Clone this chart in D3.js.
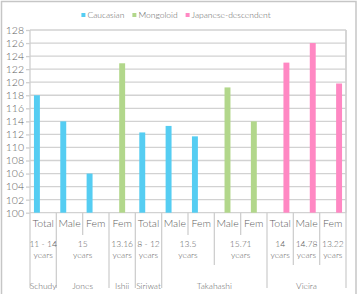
<!DOCTYPE html>
<html>
<head>
<meta charset="utf-8">
<script src="https://cdn.jsdelivr.net/npm/d3@7"></script>
<style>
  body { margin: 0; background: #fff; }
  svg text { font-family: Lato, "Open Sans", sans-serif; font-weight: 300; fill: #606060; }
</style>
</head>
<body>
<svg id="chart"></svg>
<script>
// data
const categories = ['Total', 'Male', 'Fem', 'Fem', 'Total', 'Male', 'Fem', 'Male', 'Fem', 'Total', 'Male', 'Fem'];
const ageLabels = ['11 - 14', '15', '13.16', '8 - 12', '13.5', '15.71', '14', '14.78', '13.22'];
const ageSpans = [1, 2, 1, 1, 2, 2, 1, 1, 1];
const studies = ['Schudy', 'Jones', 'Ishii', 'Siriwat', 'Takahashi', 'Vieira'];
const studySpans = [1, 2, 1, 1, 4, 3];
const seriesNames = ['Caucasian', 'Mongoloid', 'Japanese-descendent'];
const caucasian = [118, 114, 106, null, 112.3, 113.3, 111.7, null, null, null, null, null];
const mongoloid = [null, null, null, 122.9, null, null, null, 119.2, 114, null, null, null];
const japanese = [null, null, null, null, null, null, null, null, null, 123, 126, 119.8];
const yTicks = d3.range(100, 129, 2);

const colors = ['#55cdf2', '#b2d78b', '#ff88c3'];
const seriesValues = [caucasian, mongoloid, japanese];

const W = 362, H = 294;
const plot = {left: 30, top: 30, right: 346, bottom: 212.7};
const lvlEnd = [235, 265, 288];

const svg = d3.select('#chart').attr('width', W).attr('height', H);

// outer frame (cut off at the bottom in the reference)
svg.append('rect')
    .attr('x', 1.5).attr('y', 1.5)
    .attr('width', 354.5).attr('height', 310)
    .attr('fill', 'none').attr('stroke', '#c6c6c6').attr('stroke-width', 1.5);

const x0 = d3.scaleBand()
    .domain(d3.range(categories.length))
    .range([plot.left, plot.right])
    .paddingInner(0.3).paddingOuter(0.15);
const x1 = d3.scaleBand()
    .domain(seriesNames)
    .range([0, x0.bandwidth()])
    .paddingInner(0.05);
const y = d3.scaleLinear().domain([100, 128]).range([plot.bottom, plot.top]);
const step = x0.step();
const colLeft = i => plot.left + i * step;

// y axis ticks + labels
svg.append('g')
    .attr('transform', `translate(${plot.left},0)`)
    .call(d3.axisLeft(y).tickValues(yTicks).tickSize(4).tickPadding(2))
    .call(g => g.select('.domain').remove())
    .call(g => g.selectAll('.tick line').attr('stroke', '#cfcfcf').attr('stroke-width', 1.3))
    .call(g => g.selectAll('.tick text').style('font-size', '10.5px'));

// gridlines
svg.append('g').selectAll('line')
    .data(yTicks)
    .join('line')
    .attr('x1', plot.left).attr('x2', plot.right)
    .attr('y1', d => y(d)).attr('y2', d => y(d))
    .attr('stroke', '#d2d2d2').attr('stroke-width', 1.3);

// right border of plot
svg.append('line').attr('x1', plot.right).attr('x2', plot.right)
    .attr('y1', plot.top).attr('y2', plot.bottom)
    .attr('stroke', '#d2d2d2').attr('stroke-width', 1.3);

// bars
const bars = [];
seriesValues.forEach((vals, s) => vals.forEach((v, i) => {
  if (v != null) bars.push({i, s, v});
}));
svg.append('g').selectAll('rect')
    .data(bars)
    .join('rect')
    .attr('x', d => x0(d.i) + x1(seriesNames[d.s]))
    .attr('width', x1.bandwidth())
    .attr('y', d => y(d.v))
    .attr('height', d => y(100) - y(d.v))
    .attr('fill', d => colors[d.s]);

// multi-level category axis separators
const ageStarts = ageSpans.map((s, k) => d3.sum(ageSpans.slice(0, k)));
const studyStarts = studySpans.map((s, k) => d3.sum(studySpans.slice(0, k)));
const n = categories.length;
const sepLen = d3.range(n + 1).map(b => {
  if (b === 0 || b === n || studyStarts.includes(b)) return lvlEnd[2];
  if (ageStarts.includes(b)) return lvlEnd[1];
  return lvlEnd[0];
});
svg.append('g').selectAll('line')
    .data(sepLen)
    .join('line')
    .attr('x1', (d, b) => colLeft(b)).attr('x2', (d, b) => colLeft(b))
    .attr('y1', (d, b) => (b === 0 || b === n) ? plot.top : plot.bottom)
    .attr('y2', d => d)
    .attr('stroke', '#cfcfcf').attr('stroke-width', 1.3);

// level 1 labels
svg.append('g').selectAll('text')
    .data(categories)
    .join('text')
    .attr('x', (d, i) => colLeft(i) + step / 2)
    .attr('y', 226.5)
    .attr('text-anchor', 'middle')
    .style('font-size', '10.5px')
    .text(d => d);

// level 2 labels (age)
const ageG = svg.append('g').selectAll('text')
    .data(ageLabels)
    .join('text')
    .attr('text-anchor', 'middle')
    .style('font-size', '8.5px');
ageG.append('tspan')
    .attr('x', (d, k) => colLeft(ageStarts[k]) + ageSpans[k] * step / 2)
    .attr('y', 246.5)
    .text(d => d);
ageG.append('tspan')
    .attr('x', (d, k) => colLeft(ageStarts[k]) + ageSpans[k] * step / 2)
    .attr('y', 257.5)
    .text('years');

// level 3 labels (study)
svg.append('g').selectAll('text')
    .data(studies)
    .join('text')
    .attr('x', (d, k) => colLeft(studyStarts[k]) + studySpans[k] * step / 2)
    .attr('y', 288.5)
    .attr('text-anchor', 'middle')
    .style('font-size', '8.5px')
    .text(d => d);

// legend, centred above the plot
const legend = svg.append('g');
let lx = 0;
seriesNames.forEach((name, s) => {
  const item = legend.append('g').attr('transform', `translate(${lx},0)`);
  item.append('rect').attr('x', 0).attr('y', -2).attr('width', 4).attr('height', 4).attr('fill', colors[s]);
  const t = item.append('text').attr('x', 6).attr('y', 3).style('font-size', '8.5px').text(name);
  lx += 6 + t.node().getComputedTextLength() + 8;
});
legend.attr('transform', `translate(${176 - (lx - 8) / 2},15)`);
</script>
</body>
</html>
